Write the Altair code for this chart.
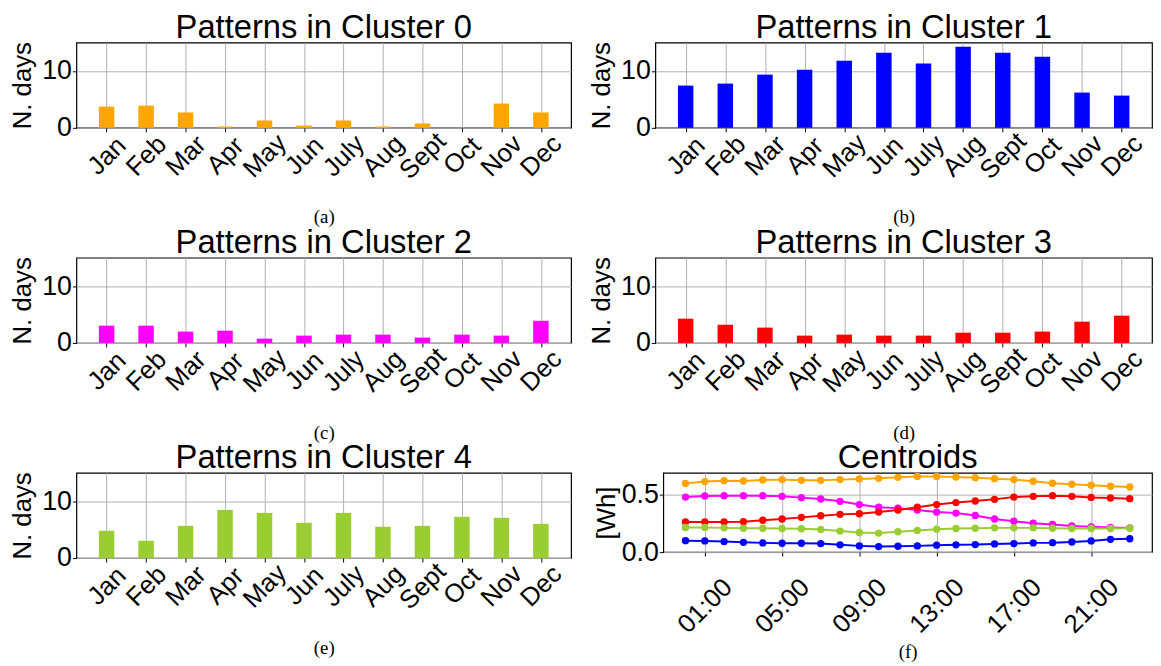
import altair as alt
import pandas as pd

months = ["Jan", "Feb", "Mar", "Apr", "May", "Jun", "July", "Aug", "Sept", "Oct", "Nov", "Dec"]
cluster0 = [3.74, 3.9, 2.7, 0.23, 1.29, 0.4, 1.29, 0.23, 0.76, 0.0, 4.27, 2.7]
cluster1 = [7.43, 7.78, 9.36, 10.23, 11.8, 13.2, 11.3, 14.27, 13.2, 12.5, 6.2, 5.67]
cluster2 = [3.04, 3.04, 2.0, 2.16, 0.76, 1.29, 1.46, 1.46, 0.94, 1.46, 1.29, 3.9]
cluster3 = [4.27, 3.2, 2.7, 1.29, 1.46, 1.29, 1.29, 1.8, 1.8, 2.0, 3.74, 4.8]
cluster4 = [4.8, 3.04, 5.67, 8.48, 7.95, 6.2, 7.95, 5.5, 5.67, 7.25, 7.08, 6.02]
colors = ["#FFA500", "#0000FF", "#FF00FF", "#FF0000", "#9ACD32"]
captions = ["(a)", "(b)", "(c)", "(d)", "(e)", "(f)"]

hours = list(range(24))
hour_ticks = [1, 5, 9, 13, 17, 21]
centroid0 = [0.594, 0.611, 0.619, 0.616, 0.625, 0.628, 0.622, 0.622, 0.628, 0.634, 0.639, 0.648,
             0.656, 0.656, 0.651, 0.645, 0.636, 0.628, 0.614, 0.597, 0.588, 0.580, 0.571, 0.565]
centroid1 = [0.099, 0.097, 0.091, 0.085, 0.080, 0.077, 0.077, 0.074, 0.063, 0.054, 0.048, 0.051,
             0.054, 0.060, 0.063, 0.065, 0.071, 0.074, 0.080, 0.082, 0.088, 0.097, 0.111, 0.116]
centroid2 = [0.477, 0.486, 0.489, 0.489, 0.489, 0.483, 0.472, 0.460, 0.440, 0.412, 0.389, 0.381,
             0.364, 0.347, 0.338, 0.318, 0.287, 0.267, 0.250, 0.239, 0.227, 0.219, 0.213, 0.210]
centroid3 = [0.261, 0.261, 0.261, 0.264, 0.276, 0.287, 0.301, 0.315, 0.327, 0.332, 0.347, 0.364,
             0.389, 0.412, 0.429, 0.443, 0.457, 0.477, 0.483, 0.489, 0.483, 0.474, 0.469, 0.463]
centroid4 = [0.213, 0.213, 0.210, 0.207, 0.207, 0.205, 0.202, 0.196, 0.182, 0.170, 0.165, 0.176,
             0.188, 0.199, 0.205, 0.207, 0.210, 0.210, 0.210, 0.207, 0.205, 0.205, 0.205, 0.207]

SANS = "Liberation Sans"
SERIF = "Liberation Serif"


def bar_panel(vals, k, width, title_offset=-36):
    df = pd.DataFrame({"month": months, "days": vals})
    return alt.Chart(df).mark_bar(color=colors[k], size=15.6).encode(
        x=alt.X("month:N", sort=months,
                scale=alt.Scale(type="point", padding=0.765),
                axis=alt.Axis(title=captions[k], labelAngle=-45, labelAlign="center",
                              labelBaseline="middle", labelPadding=24, labelFontSize=26,
                              titleFont=SERIF, titleFontSize=19, titleY=90,
                              titleBaseline="middle")),
        y=alt.Y("days:Q", scale=alt.Scale(domain=[0, 15], nice=False),
                axis=alt.Axis(values=[0, 10], title="N. days", titleX=-54,
                              titleBaseline="middle", labelFontSize=27, titleFontSize=26)),
    ).properties(width=width, height=86,
                 title=alt.TitleParams(f"Patterns in Cluster {k}", offset=title_offset,
                                       baseline="bottom"))


rows = []
for k, series in enumerate([centroid0, centroid1, centroid2, centroid3, centroid4]):
    for h, v in zip(hours, series):
        rows.append({"hour": h, "wh": v, "cluster": str(k)})
cdf = pd.DataFrame(rows)

base = alt.Chart(cdf).encode(
    x=alt.X("hour:Q", scale=alt.Scale(domain=[-1.15, 24.15], nice=False, zero=False),
            axis=alt.Axis(values=hour_ticks, labelAngle=-45, labelAlign="center",
                          labelBaseline="middle", labelPadding=50, labelFontSize=26,
                          labelExpr="(datum.value < 10 ? '0' : '') + datum.value + ':00'",
                          title=captions[5], titleFont=SERIF, titleFontSize=19, titleY=100,
                          titleBaseline="middle")),
    y=alt.Y("wh:Q", scale=alt.Scale(domain=[0, 0.687], nice=False),
            axis=alt.Axis(values=[0, 0.5], format=".1f", title="[Wh]", titleX=-57,
                          titleBaseline="middle", labelFontSize=27, titleFontSize=26)),
    color=alt.Color("cluster:N", scale=alt.Scale(domain=["0", "1", "2", "3", "4"], range=colors),
                    legend=None),
    detail="cluster:N",
)
centroids = alt.layer(
    base.mark_line(strokeWidth=2),
    base.mark_circle(size=55, opacity=1),
).properties(width=493, height=80,
             title=alt.TitleParams("Centroids", offset=-36, baseline="bottom"))

row1 = alt.hconcat(bar_panel(cluster0, 0, 499), bar_panel(cluster1, 1, 501), spacing=16)
row2 = alt.hconcat(bar_panel(cluster2, 2, 499), bar_panel(cluster3, 3, 501), spacing=16)
row3 = alt.hconcat(bar_panel(cluster4, 4, 499, title_offset=-36), centroids, spacing=21)

chart = alt.vconcat(row1, row2, row3, spacing=-2).properties(
    padding={"left": 1, "top": 0, "right": 0, "bottom": 0}
).configure_view(
    stroke="black", strokeWidth=1.2
).configure_axis(
    domain=False, grid=True, gridColor="#b0b0b0", gridWidth=1,
    tickColor="black", tickSize=4, tickWidth=1,
    labelFont=SANS, titleFont=SANS, labelColor="black", titleColor="black",
    titleFontWeight="normal", labelPadding=1,
).configure_title(
    font=SANS, fontSize=33, fontWeight="normal", color="black", anchor="middle"
)

chart.save("out.html", embed_options={"renderer": "svg", "actions": False})
